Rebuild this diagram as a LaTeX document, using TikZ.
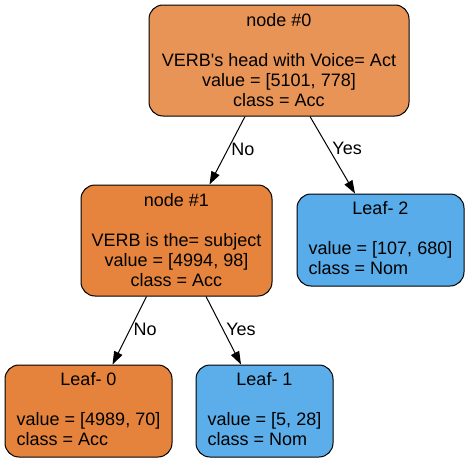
\documentclass[tikz,border=0pt]{standalone}
\usepackage{fontspec}
\setmainfont{Liberation Sans}
\usetikzlibrary{arrows.meta}
\definecolor{accroot}{HTML}{E99457}
\definecolor{accsplit}{HTML}{E6843D}
\definecolor{accleaf}{HTML}{E5833C}
\definecolor{nomleaf}{HTML}{58ACE9}
\definecolor{nomsmall}{HTML}{5CAEEA}

\begin{document}
\begin{tikzpicture}[x=1pt,y=-1pt]
	\tikzset{box/.style = {draw=black,line width=1pt,rounded corners=14pt,inner sep=0pt,font=\fontsize{18}{20}\selectfont}}
	\tikzset{splitbox/.style = {box,minimum height=111pt,align=center}}
	\tikzset{leafbox/.style = {box,minimum height=92pt}}
	\tikzset{branch/.style = {line width=1pt,-{Triangle[length=13pt,width=9pt]}}}
	\tikzset{branchlabel/.style = {font=\fontsize{18}{20}\selectfont,anchor=west,inner sep=3pt}}
	\useasboundingbox (0,0) rectangle (469,463);
	% splits
	\node[splitbox,fill=accroot,minimum width=260pt] (N0) at (279,60.5)
		{node \#0\\[20pt]VERB\textquotesingle s head with Voice= Act\\value = [5101, 778]\\class = Acc};
	\node[splitbox,fill=accsplit,minimum width=191pt] (N1) at (176.5,240.5)
		{node \#1\\[20pt]VERB is the= subject\\value = [4994, 98]\\class = Acc};
	% leaves
	\node[leafbox,fill=nomleaf,minimum width=167pt] (L2) at (380.5,240)
		{\begin{tabular}{@{}l@{}}\multicolumn{1}{@{}c@{}}{Leaf- 2}\\[20pt]value = [107, 680]\\class = Nom\end{tabular}};
	\node[leafbox,fill=accleaf,minimum width=167pt] (L0) at (88.5,411)
		{\begin{tabular}{@{}l@{}}\multicolumn{1}{@{}c@{}}{Leaf- 0}\\[20pt]value = [4989, 70]\\class = Acc\end{tabular}};
	\node[leafbox,fill=nomsmall,minimum width=137pt] (L1) at (264.5,411)
		{\begin{tabular}{@{}l@{}}\multicolumn{1}{@{}c@{}}{Leaf- 1}\\[20pt]value = [5, 28]\\class = Nom\end{tabular}};
	% branches
	\draw[branch] ([xshift=-34pt]N0.south) -- node[branchlabel,pos=0.48]{No} ([xshift=33pt]N1.north);
	\draw[branch] ([xshift=31pt]N0.south) -- node[branchlabel,pos=0.42]{Yes} ([xshift=-25.5pt]L2.north);
	\draw[branch] ([xshift=-30pt]N1.south) -- node[branchlabel,pos=0.48]{No} ([xshift=24pt]L0.north);
	\draw[branch] ([xshift=29.5pt]N1.south) -- node[branchlabel,pos=0.48]{Yes} ([xshift=-23.5pt]L1.north);
\end{tikzpicture}
\end{document}
